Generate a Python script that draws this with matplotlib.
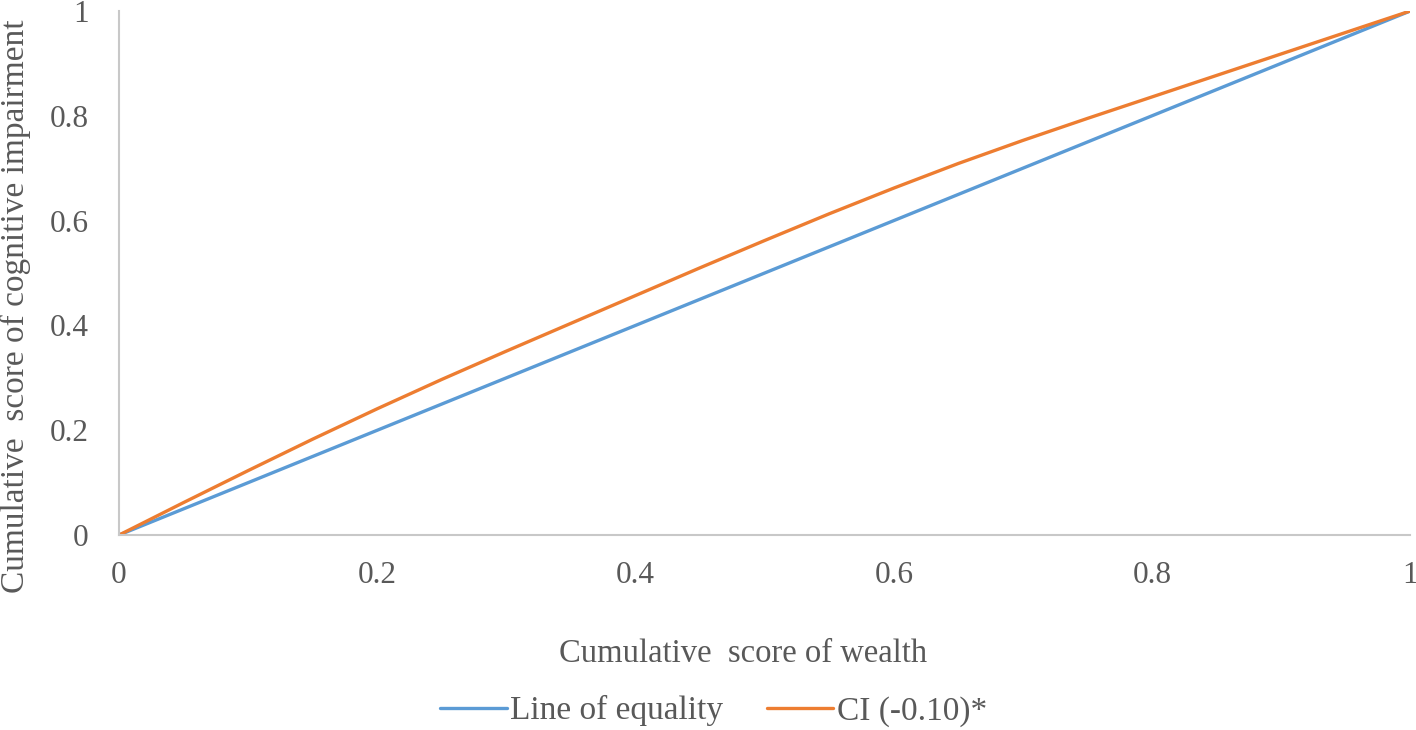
import matplotlib
matplotlib.use("Agg")
import matplotlib.pyplot as plt

plt.rcParams['font.family'] = ['Liberation Serif', 'DejaVu Serif']

wealth = [0, 0.05, 0.1, 0.15, 0.2, 0.25, 0.3, 0.35, 0.4, 0.45, 0.5,
          0.55, 0.6, 0.65, 0.7, 0.75, 0.8, 0.85, 0.9, 0.95, 1.0]
equality = [0, 0.05, 0.1, 0.15, 0.2, 0.25, 0.3, 0.35, 0.4, 0.45, 0.5,
            0.55, 0.6, 0.65, 0.7, 0.75, 0.8, 0.85, 0.9, 0.95, 1.0]
ci_curve = [0, 0.062, 0.123, 0.183, 0.241, 0.297, 0.351, 0.404, 0.457, 0.510, 0.562,
            0.613, 0.662, 0.709, 0.753, 0.795, 0.836, 0.877, 0.918, 0.959, 1.0]
xticks = [0, 0.2, 0.4, 0.6, 0.8, 1]
xticklabels = ["0", "0.2", "0.4", "0.6", "0.8", "1"]
yticks = [0, 0.2, 0.4, 0.6, 0.8, 1]
yticklabels = ["0", "0.2", "0.4", "0.6", "0.8", "1"]

TXT = '#595959'

fig = plt.figure(figsize=(14.16, 7.3), dpi=100)
ax = fig.add_axes([0.084, 0.267, 0.912, 0.718])

ax.plot(wealth, equality, color='#5B9BD5', lw=2.4, label='Line of equality',
        solid_capstyle='round', solid_joinstyle='round')
ax.plot(wealth, ci_curve, color='#ED7D31', lw=2.4, label='CI (-0.10)*',
        solid_capstyle='round', solid_joinstyle='round')

ax.set_xlim(0, 1)
ax.set_ylim(0, 1)
ax.set_xticks(xticks)
ax.set_xticklabels(xticklabels)
ax.set_yticks(yticks)
ax.set_yticklabels(yticklabels)
ax.tick_params(length=0, labelsize=22.5, labelcolor=TXT)
ax.tick_params(axis='x', pad=19)
ax.tick_params(axis='y', pad=22)
for s in ['top', 'right']:
    ax.spines[s].set_visible(False)
for s in ['left', 'bottom']:
    ax.spines[s].set_color('#C8C8C8')
    ax.spines[s].set_linewidth(1.5)

ax.set_xlabel('Cumulative  score of wealth', fontsize=23.5, color=TXT)
ax.xaxis.set_label_coords(0.483, -0.198)
ax.set_ylabel('Cumulative  score of cognitive impairment', fontsize=24, color=TXT)
ax.yaxis.set_label_coords(-0.068, 0.437)

leg = fig.legend(loc='center', bbox_to_anchor=(0.504, 0.026), ncol=2, frameon=False,
                 fontsize=24, handlelength=2.0, handletextpad=0.1, columnspacing=1.3)
for t in leg.get_texts():
    t.set_color(TXT)

fig.savefig('out.png', dpi=100)
